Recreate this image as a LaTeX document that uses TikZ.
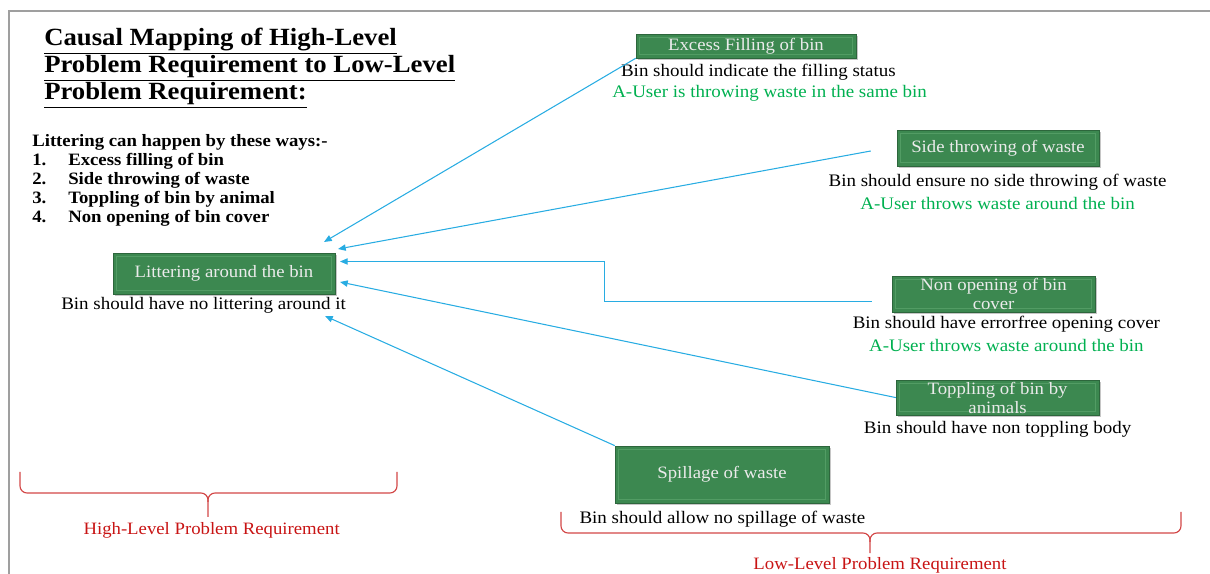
\documentclass[tikz,border=0pt]{standalone}
\usepackage{fontspec}
\setmainfont[FakeStretch=1.08]{Liberation Serif}
\usetikzlibrary{arrows.meta,shadows}

\definecolor{boxgreen}{RGB}{60,136,80}
\definecolor{boxedge}{RGB}{82,156,100}
\definecolor{causegreen}{RGB}{0,176,80}
\definecolor{linkblue}{RGB}{40,172,226}
\definecolor{bracered}{RGB}{210,70,70}
\definecolor{labelred}{RGB}{200,20,20}

\tikzset{
    req/.style={draw=boxgreen!75!black, fill=boxgreen, text=white!92!black,
        inner sep=0pt, align=center, font=\fontsize{12.35}{13.5}\selectfont,
        drop shadow={shadow xshift=1.5pt, shadow yshift=-1.5pt, opacity=0.45},
        path picture={\draw[boxedge, line width=0.6pt]
            ([shift={(2.5pt,-2.5pt)}]path picture bounding box.north west) rectangle
            ([shift={(-2.5pt,2.5pt)}]path picture bounding box.south east);}},
    desc/.style={inner sep=0pt, font=\fontsize{12.5}{14}\selectfont},
    cause/.style={desc, text=causegreen},
    link/.style={linkblue, line width=0.75pt, -{Triangle[length=5.5pt,width=4.5pt]}},
    reqbrace/.style={bracered, line width=0.8pt, rounded corners=5pt},
    bracelabel/.style={inner sep=0pt, text=labelred, font=\fontsize{12.35}{14}\selectfont}
}

\begin{document}
\begin{tikzpicture}
        \useasboundingbox (0,0) rectangle (30.25,14.35);
        \draw [gray!75, line width=1.2pt] (0.225,0) -- (0.225,14.075) -- (30.25,14.075);

        % title and list
        \node [anchor=north west, inner sep=0pt, align=left,
            font=\fontsize{17.6}{19.2}\selectfont\bfseries] (title) at (1.1,13.65)
            {\underline{Causal Mapping of High-Level}\\
             \underline{Problem Requirement to Low-Level}\\
             \underline{Problem Requirement:}};
        \node [anchor=north west, inner sep=0pt, align=left,
            font=\fontsize{12.35}{13.5}\selectfont\bfseries] (ways) at (0.8,11.0)
            {Littering can happen by these ways:-\\
             \makebox[25.6pt][l]{1.}Excess filling of bin\\
             \makebox[25.6pt][l]{2.}Side throwing of waste\\
             \makebox[25.6pt][l]{3.}Toppling of bin by animal\\
             \makebox[25.6pt][l]{4.}Non opening of bin cover};

        % high-level requirement
        \node [req, minimum width=5.55cm, minimum height=1.025cm] (litter) at (5.6,7.51)
            {Littering around the bin};
        \node [desc] (litterdesc) at (5.09,6.725) {Bin should have no littering around it};

        % low-level requirements
        \node [req, minimum width=5.5cm, minimum height=0.6cm] (excess) at (18.65,13.2)
            {Excess Filling of bin};
        \node [desc] (excessdesc) at (18.96,12.55) {Bin should indicate the filling status};
        \node [cause] (excesscause) at (19.24,12.025) {A-User is throwing waste in the same bin};

        \node [req, minimum width=5.05cm, minimum height=0.9cm] (side) at (24.95,10.65)
            {Side throwing of waste};
        \node [desc] (sidedesc) at (24.94,9.8) {Bin should ensure no side throwing of waste};
        \node [cause] (sidecause) at (24.94,9.275) {A-User throws waste around the bin};

        \node [req, minimum width=5.075cm, minimum height=0.9cm] (nonopen) at (24.84,7.0)
            {Non opening of bin\\cover};
        \node [desc] (nonopendesc) at (25.16,6.25) {Bin should have errorfree opening cover};
        \node [cause] (nonopencause) at (25.16,5.725) {A-User throws waste around the bin};

        \node [req, minimum width=5.075cm, minimum height=0.875cm] (topple) at (24.94,4.41)
            {Toppling of bin by\\animals};
        \node [desc] (toppledesc) at (24.94,3.625) {Bin should have non toppling body};

        \node [req, minimum width=5.35cm, minimum height=1.425cm] (spill) at (18.05,2.49)
            {Spillage of waste};
        \node [desc] (spilldesc) at (18.06,1.375) {Bin should allow no spillage of waste};

        % causal links
        \coordinate (in1) at (8.1,8.3);
        \coordinate (in2) at (8.45,8.125);
        \coordinate (in3) at (8.5,7.8125);
        \coordinate (in4) at (8.5,7.3);
        \coordinate (in5) at (8.125,6.45);
        \draw [link] (excess.south west) -- (in1);
        \draw [link] ([shift={(-0.65,-0.075)}]side.west) -- (in2);
        \draw [link] ([shift={(-0.5,-0.1875)}]nonopen.west) -| (15.1125,7.8125) -- (in3);
        \draw [link] (topple.west) -- (in4);
        \draw [link] (spill.north west) -- (in5);

        % braces
        \draw [reqbrace] (0.5,2.55) |- (5.2,2.025) -- (5.2,1.425);
        \draw [reqbrace] (9.925,2.55) |- (5.2,2.025) -- (5.2,1.8);
        \node [bracelabel] (highlabel) at (5.29,1.1) {High-Level Problem Requirement};
        \draw [reqbrace] (14.025,1.55) |- (21.75,1.025) -- (21.75,0.52);
        \draw [reqbrace] (29.525,1.55) |- (21.75,1.025) -- (21.75,0.8);
        \node [bracelabel, anchor=base] (lowlabel) at (22.0,0.1) {Low-Level Problem Requirement};
\end{tikzpicture}
\end{document}
